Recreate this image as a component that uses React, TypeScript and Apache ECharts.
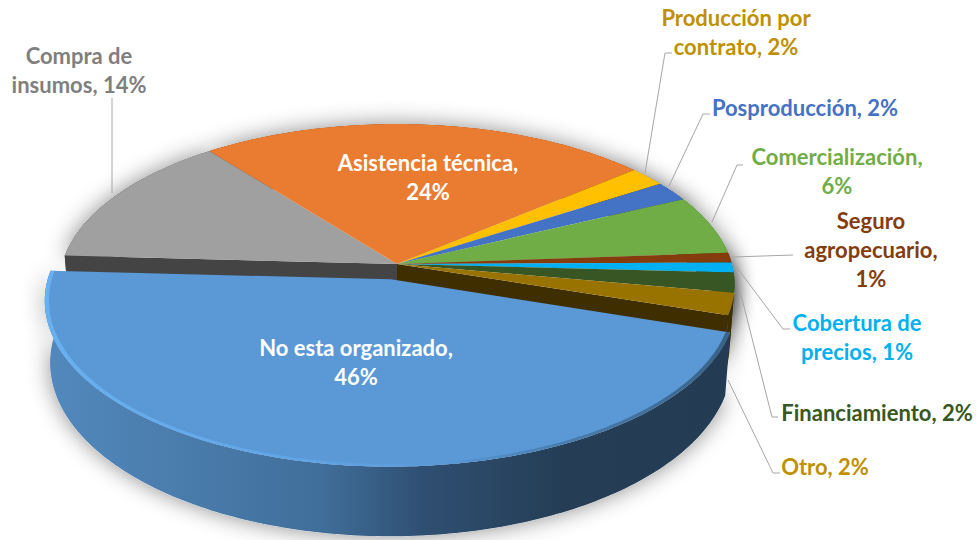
import React, { useEffect, useRef } from "react";
import * as echarts from "echarts";

const categories = [
  "No esta organizado", "Compra de insumos", "Asistencia técnica", "Producción por contrato",
  "Posproducción", "Comercialización", "Seguro agropecuario", "Cobertura de precios",
  "Financiamiento", "Otro",
];
const shares = [45.8, 13.6, 24.4, 2, 2, 6, 1, 1, 2, 2.2];
const topColors = ["#5a98d6", "#a0a0a0", "#ea7c31", "#ffc000", "#4472c4", "#70ad47", "#843c0c", "#00b0f0", "#375623", "#997300"];
const wallColors = ["#2f4f72", "#444444", "#6b3510", "#735a00", "#223a66", "#38572a", "#421e06", "#005878", "#1c2b12", "#3f2e00"];
const explode = [0.098, 0, 0, 0, 0, 0, 0, 0, 0, 0];
const labelLines = [
  { text: "No esta organizado,\n46%", color: "#ffffff", x: 356, y: 362 },
  { text: "Compra de\ninsumos, 14%", color: "#7f7f7f", x: 79, y: 70 },
  { text: "Asistencia técnica,\n24%", color: "#ffffff", x: 428, y: 177 },
  { text: "Producción por\ncontrato, 2%", color: "#bf9000", x: 736, y: 32 },
  { text: "Posproducción, 2%", color: "#4472c4", x: 805, y: 107 },
  { text: "Comercialización,\n6%", color: "#70ad47", x: 837, y: 171 },
  { text: "Seguro\nagropecuario,\n1%", color: "#843c0c", x: 871, y: 249 },
  { text: "Cobertura de\nprecios, 1%", color: "#00b0f0", x: 857, y: 337 },
  { text: "Financiamiento, 2%", color: "#385723", x: 877, y: 412 },
  { text: "Otro, 2%", color: "#bf9000", x: 825, y: 466 },
];
const leaders = [
  [[112, 193], [112, 98]],
  [[645, 173], [665, 53], [672, 53]],
  [[669, 186], [703, 114], [710, 114]],
  [[712, 222], [737, 165], [743, 165]],
  [[733, 257], [793, 255]],
  [[735, 265], [783, 329], [790, 329]],
  [[738, 283], [772, 417], [778, 417]],
  [[728, 380], [773, 473], [780, 473]],
];

const CX = 397, CY = 264, RX = 335, RY = 157.5, PERSP = 0.125, DEPTH = 60, START = -18.2, MOVED_SCALE = 1.012;
const FONT = "Lato, 'Open Sans', sans-serif";

const rad = (d: number) => (d * Math.PI) / 180;
const total = shares.reduce((a, b) => a + b, 0);
const spans = shares.map((v, i) => {
  const before = shares.slice(0, i).reduce((a, b) => a + b, 0);
  return [START - (before / total) * 360, START - ((before + v) / total) * 360];
});
const midAngle = (i: number) => (spans[i][0] + spans[i][1]) / 2;

// world (u, v) on the unit disc, z = depth below the top surface
function project(u: number, v: number, z = 0): number[] {
  const d = 1 + PERSP * v;
  const shrink = 1 - 0.015 * z;
  return [CX + (RX * u * shrink) / d, CY - (RY * v) / d + (DEPTH * z) / d];
}
const offsetOf = (i: number) => [
  explode[i] * Math.cos(rad(midAngle(i))),
  explode[i] * Math.sin(rad(midAngle(i))),
];
function rimPoint(i: number, a: number, z = 0, r = 1) {
  const [ox, oy] = offsetOf(i);
  const s = r * (explode[i] > 0 ? MOVED_SCALE : 1);
  return project(s * Math.cos(rad(a)) + ox, s * Math.sin(rad(a)) + oy, z);
}
function apex(i: number, z = 0) {
  const [ox, oy] = offsetOf(i);
  return project(ox, oy, z);
}
function arc(i: number, z = 0, r = 1) {
  const [from, to] = spans[i];
  const n = Math.max(2, Math.ceil(Math.abs(to - from)));
  const out: number[][] = [];
  for (let k = 0; k <= n; k++) out.push(rimPoint(i, from + ((to - from) * k) / n, z, r));
  return out;
}

const wallFill = (i: number) =>
  i === 0
    ? new echarts.graphic.LinearGradient(50, 0, 730, 0, [
        { offset: 0, color: "#5288bd" },
        { offset: 0.2, color: "#4a7cab" },
        { offset: 0.4, color: "#406e9a" },
        { offset: 0.55, color: "#2f4f72" },
        { offset: 0.75, color: "#253e56" },
        { offset: 1, color: "#243c53" },
      ], true)
    : wallColors[i];

const n = shares.length;
const cutFace = (i: number, end: 0 | 1) => {
  const outer = end === 0 ? arc(i, 0)[0] : arc(i, 0).at(-1);
  const lower = end === 0 ? arc(i, 1)[0] : arc(i, 1).at(-1);
  return {
    type: "polygon",
    silent: true,
    shape: { points: [apex(i), outer, lower, apex(i, 1)] },
    style: { fill: wallColors[i] },
  };
};

const renderers: Record<string, (i: number) => any> = {
  wall: (i) => {
    const children: any[] = [
      { type: "polygon", silent: true, shape: { points: [...arc(i, 0), ...arc(i, 1).reverse()] }, style: { fill: wallFill(i) } },
    ];
    if (explode[i] === 0 && explode[(i + n - 1) % n] > 0) children.push(cutFace(i, 0));
    if (explode[i] === 0 && explode[(i + 1) % n] > 0) children.push(cutFace(i, 1));
    return { type: "group", children };
  },
  top: (i) => ({
    type: "polygon",
    silent: true,
    shape: { points: [apex(i), ...arc(i, 0)] },
    style: { fill: topColors[i] },
  }),
  shadow: (i) => ({
    type: "polygon",
    silent: true,
    shape: { points: [apex(i, 0), ...arc(i, 0), ...arc(i, 1).reverse()] },
    style: { fill: "#ffffff", shadowBlur: 22, shadowColor: "rgba(0,0,0,0.45)", shadowOffsetX: 0, shadowOffsetY: 0 },
  }),
  rim: (i) => ({
    type: "polygon",
    silent: true,
    shape: { points: [...arc(i, 0), ...arc(i, 0, 0.988).reverse()] },
    style: {
      fill: new echarts.graphic.LinearGradient(50, 0, 730, 0, [
        { offset: 0, color: "#68b0f0" },
        { offset: 0.25, color: "#64a9ea" },
        { offset: 0.48, color: "#5f9fe0" },
        { offset: 0.58, color: "#5a98d6" },
        { offset: 0.74, color: "#4a7eb0" },
        { offset: 1, color: "#3a6288" },
      ], true),
    },
  }),
};

const indices = categories.map((_, i) => i);
const plain = indices.filter((i) => explode[i] === 0);
const moved = indices.filter((i) => explode[i] !== 0);

function layer(name: string, idx: number[], kind: string) {
  return {
    type: "custom" as const,
    name,
    coordinateSystem: "none" as const,
    silent: true,
    data: idx.map((i) => [i]),
    renderItem: (_p: any, api: any) => renderers[kind](api.value(0)),
  };
}

export default function App() {
  const ref = useRef<HTMLDivElement>(null);
  useEffect(() => {
    const chart = echarts.init(ref.current!, undefined, { renderer: "svg" });
    chart.setOption({
      animation: false,
      backgroundColor: "#ffffff",
      series: [
        layer("sombra", indices, "shadow"),
        layer("paredes", plain, "wall"),
        layer("superficie", plain, "top"),
        layer("pared-principal", moved, "wall"),
        layer("superficie-principal", moved, "top"),
        layer("borde", moved, "rim"),
      ],
      graphic: [
        ...leaders.map((points) => ({
          type: "polyline",
          z: 50,
          shape: { points },
          style: { stroke: "#a6a6a6", lineWidth: 1, fill: "none" },
        })),
        ...labelLines.map((l) => ({
          type: "text",
          z: 60,
          x: l.x,
          y: l.y,
          style: {
            text: l.text,
            fill: l.color,
            font: `bold 22px ${FONT}`,
            lineHeight: 29,
            align: "center",
            verticalAlign: "middle",
          },
        })),
      ],
    });
    return () => chart.dispose();
  }, []);
  return <div ref={ref} style={{ position: "fixed", left: 0, top: 0, width: 976, height: 540 }} />;
}
